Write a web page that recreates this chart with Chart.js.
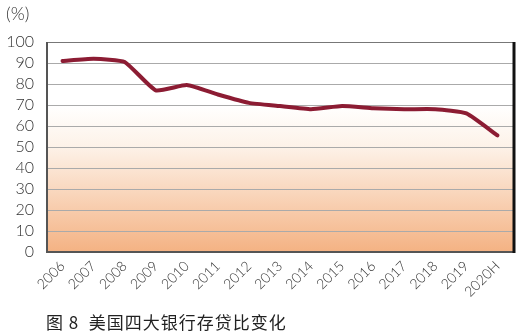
<!DOCTYPE html>
<html>
<head>
<meta charset="utf-8">
<script src="https://cdn.jsdelivr.net/npm/chart.js@4"></script>
<style>
  html, body { margin: 0; padding: 0; background: #fff; }
  #wrap { position: relative; width: 526px; height: 336px; }
  #unit { position: absolute; left: 6px; top: 2px; font: 300 18px Lato, sans-serif; color: #333; }
  #caption { position: absolute; left: 46px; top: 309px; font: 17px "Noto Sans CJK SC", sans-serif; color: #222; letter-spacing: 1px; }
</style>
</head>
<body>
<div id="wrap">
  <canvas id="c" width="526" height="336"></canvas>
  <div id="unit">(%)</div>
  <div id="caption">图 8&nbsp; 美国四大银行存贷比变化</div>
</div>
<script>
// Loan-to-deposit ratio of the four big US banks
const years = ['2006', '2007', '2008', '2009', '2010', '2011', '2012', '2013',
               '2014', '2015', '2016', '2017', '2018', '2019', '2020H'];
const ratio = [91, 92, 90.5, 77, 79.5, 75, 71, 69.5, 68, 69.5, 68.5, 68, 68, 66, 55.5];
const yTicks = [0, 10, 20, 30, 40, 50, 60, 70, 80, 90, 100];

// background gradient + frame
const framePlugin = {
    id: 'frame',
    beforeDraw(chart) {
        const { ctx, chartArea: a } = chart;
        const g = ctx.createLinearGradient(0, a.top, 0, a.bottom);
        g.addColorStop(0, '#ffffff');
        g.addColorStop(0.3, '#ffffff');
        g.addColorStop(0.5, '#fdf2e8');
        g.addColorStop(1, '#f4b283');
        ctx.save();
        ctx.fillStyle = g;
        ctx.fillRect(a.left, a.top, a.right - a.left, a.bottom - a.top);
        ctx.restore();
    },
    afterDraw(chart) {
        const { ctx, chartArea: a } = chart;
        ctx.save();
        ctx.strokeStyle = '#777';
        ctx.lineWidth = 1;
        ctx.beginPath();
        ctx.moveTo(a.left, a.top + 0.5);
        ctx.lineTo(a.right, a.top + 0.5);
        ctx.stroke();
        ctx.strokeStyle = '#555';
        ctx.lineWidth = 2;
        ctx.beginPath();
        ctx.moveTo(a.left, a.top);
        ctx.lineTo(a.left, a.bottom);
        ctx.lineTo(a.right, a.bottom);
        ctx.stroke();
        ctx.strokeStyle = '#111';
        ctx.lineWidth = 3;
        ctx.beginPath();
        ctx.moveTo(a.right + 1, a.top);
        ctx.lineTo(a.right + 1, a.bottom + 1);
        ctx.stroke();
        ctx.restore();
    }
};

const ctx = document.getElementById('c').getContext('2d');
new Chart(ctx, {
    type: 'line',
    data: {
        labels: years,
        datasets: [{
            data: ratio,
            borderColor: '#8c1c33',
            borderWidth: 4,
            pointRadius: 0,
            tension: 0.15,
            borderJoinStyle: 'round',
            borderCapStyle: 'round',
            fill: false
        }]
    },
    options: {
        responsive: false,
        animation: false,
        layout: { padding: { top: 42, right: 13, left: 0, bottom: 0 } },
        plugins: { legend: { display: false }, tooltip: { enabled: false } },
        scales: {
            x: {
                offset: true,
                grid: { display: false, drawTicks: false },
                border: { display: false },
                ticks: {
                    autoSkip: false,
                    minRotation: 45,
                    maxRotation: 45,
                    padding: 6,
                    color: '#333',
                    font: { family: 'Lato', size: 14, weight: 300 }
                },
                afterFit(s) { s.height = 84; }
            },
            y: {
                min: 0,
                max: 100,
                afterBuildTicks(s) { s.ticks = yTicks.map(v => ({ value: v })); },
                grid: { color: '#aaa', lineWidth: 1, drawTicks: false },
                border: { display: false },
                ticks: {
                    autoSkip: false,
                    padding: 13,
                    color: '#333',
                    font: { family: 'Lato', size: 16, weight: 300 }
                },
                afterFit(s) { s.width = 47; }
            }
        }
    },
    plugins: [framePlugin]
});
</script>
</body>
</html>
